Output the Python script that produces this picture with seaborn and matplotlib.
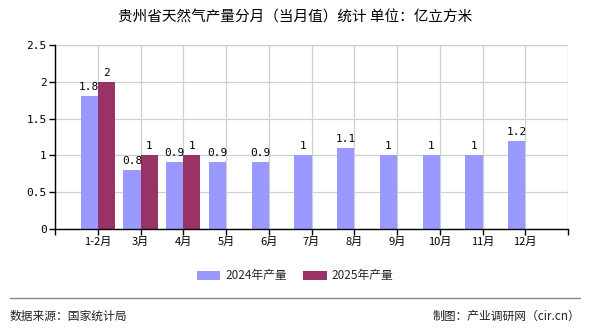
import matplotlib
matplotlib.use("Agg")
import matplotlib.pyplot as plt
import seaborn as sns
import pandas as pd
import numpy as np
from matplotlib.lines import Line2D

months = ["1-2月", "3月", "4月", "5月", "6月", "7月", "8月", "9月", "10月", "11月", "12月"]
v2024 = [1.81, 0.80, 0.91, 0.91, 0.91, 1.0, 1.1, 1.0, 1.0, 1.0, 1.2]
l2024 = ["1.8", "0.8", "0.9", "0.9", "0.9", "1", "1.1", "1", "1", "1", "1.2"]
v2025 = [2.0, 1.0, 1.0]
l2025 = ["2", "1", "1"]
series = ["2024年产量", "2025年产量"]
colors = ["#9999FF", "#993366"]

rows = []
for m, v in zip(months, v2024):
    rows.append({"month": m, "value": v, "series": series[0]})
for m, v in zip(months[:len(v2025)], v2025):
    rows.append({"month": m, "value": v, "series": series[1]})
df = pd.DataFrame(rows)

sns.set_theme(style="white")
plt.rcParams["font.family"] = ["Noto Sans CJK SC", "DejaVu Sans"]

fig = plt.figure(figsize=(5.9, 3.3), dpi=100)
ax = fig.add_axes([55/590, 1-229/330, (568-55)/590, (229-45)/330])

sns.barplot(data=df, x="month", y="value", hue="series", order=months,
            hue_order=series, palette=colors, width=0.8, ax=ax,
            saturation=1, legend=True, errorbar=None, linewidth=0, edgecolor="none")

ax.set_xlim(-1, 11)
ax.set_ylim(0, 2.5)
ax.set_yticks([0, 0.5, 1, 1.5, 2, 2.5])
ax.set_yticklabels(["0", "0.5", "1", "1.5", "2", "2.5"], family="DejaVu Sans Mono", fontsize=8)
ax.set_xticks(range(-1, 12))
ax.set_xticklabels([""] + months + [""], fontsize=8)
ax.set_xlabel("")
ax.set_ylabel("")
ax.grid(True, color="#d0d0d0", linewidth=0.9)
ax.set_axisbelow(True)
for s in ["top", "right"]:
    ax.spines[s].set_visible(False)
for s in ["left", "bottom"]:
    ax.spines[s].set_color("black")
    ax.spines[s].set_linewidth(1)
ax.tick_params(axis="both", which="both", length=4, width=1, color="black",
               direction="out", bottom=True, left=True, pad=2, labelcolor="black")
ax.axhline(2.5, color="#d0d0d0", linewidth=0.9, zorder=0)
ax.axvline(11, color="#d0d0d0", linewidth=0.9, zorder=0)

conts = ax.containers
for cont, labs in zip(conts, [l2024, l2025]):
    for rect, lab in zip([r for r in cont if not np.isnan(r.get_height())], labs):
        ax.annotate(lab, (rect.get_x() + rect.get_width()/2, rect.get_height()),
                    xytext=(0, 3), textcoords="offset points", ha="center", va="bottom",
                    fontsize=8, family="DejaVu Sans Mono", color="black")

handles, labels = ax.get_legend_handles_labels()
ax.get_legend().remove()
fig.legend(handles, labels, loc="center", bbox_to_anchor=(0.5, 1-276/330), ncol=2,
           frameon=False, fontsize=8.5, handlelength=2.0, handleheight=0.7,
           columnspacing=1.4, handletextpad=0.4)

fig.text(0.5, 1-18/330, "贵州省天然气产量分月（当月值）统计 单位：亿立方米",
         ha="center", va="center", fontsize=10.5, color="black")
fig.add_artist(Line2D([10/590, 580/590], [1-298/330, 1-298/330], color="#888888", linewidth=1))
fig.text(10/590, 1-316/330, "数据来源：国家统计局", ha="left", va="center", fontsize=8.5, color="#222222")
fig.text(580/590, 1-316/330, "制图：产业调研网（cir.cn）", ha="right", va="center", fontsize=8.5, color="#222222")

fig.savefig("out.png", dpi=100)
